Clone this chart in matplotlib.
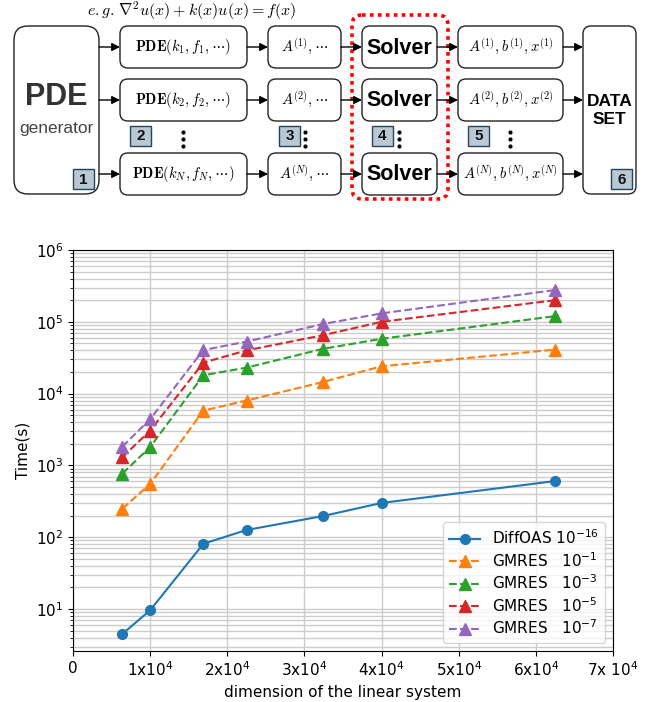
import matplotlib.pyplot as plt
from matplotlib.patches import FancyBboxPatch
import numpy as np

# ---- chart data ----
dims = [6400, 10000, 16900, 22500, 32400, 40000, 62500]
diffoas = [4.5, 9.6, 81, 126, 197, 300, 605]
gmres_1 = [250, 550, 5800, 8000, 14500, 24000, 41000]
gmres_3 = [770, 1800, 18000, 23000, 42000, 58000, 120000]
gmres_5 = [1300, 3050, 27000, 40000, 65000, 100000, 200000]
gmres_7 = [1830, 4400, 40500, 53000, 93000, 131000, 277000]

gmres_series = [gmres_1, gmres_3, gmres_5, gmres_7]
gmres_labels = ['GMRES   $10^{-1}$', 'GMRES   $10^{-3}$',
                'GMRES   $10^{-5}$', 'GMRES   $10^{-7}$']
gmres_colors = ['#ff7f0e', '#2ca02c', '#d62728', '#9467bd']

xtick_vals = [0, 1e4, 2e4, 3e4, 4e4, 5e4, 6e4, 7e4]
xtick_labels = ['0', '1x$10^4$', '2x$10^4$', '3x$10^4$', '4x$10^4$',
                '5x$10^4$', '6x$10^4$', '7x $10^4$']

# ---- figure ----
fig = plt.figure(figsize=(6.45, 7.02), dpi=100)

# overlay axes in pixel units for the pipeline diagram
ad = fig.add_axes([0, 0, 1, 1])
ad.set_xlim(0, 645)
ad.set_ylim(702, 0)
ad.axis('off')

def box(x, y, w, h, r=8, ec='#222222', lw=1.0, ls='-'):
    p = FancyBboxPatch((x, y), w, h, boxstyle=f"round,pad=0,rounding_size={r}",
                       fc='white', ec=ec, lw=lw, ls=ls)
    ad.add_patch(p)

def badge(x, y, s):
    p = FancyBboxPatch((x, y), 21, 20, boxstyle="square,pad=0",
                       fc='#bac8d3', ec='#23445d', lw=1.0)
    ad.add_patch(p)
    ad.text(x + 10.5, y + 10.5, s, ha='center', va='center', fontsize=11,
            fontweight='bold', family='Liberation Sans', color='#111111')

def arrow(x1, x2, y):
    ad.annotate('', xy=(x2, y), xytext=(x1, y),
                arrowprops=dict(arrowstyle='-|>', color='black', lw=1.0,
                                shrinkA=0, shrinkB=0, mutation_scale=12))

def vdots(x):
    ad.plot([x, x, x], [132, 139, 146], 'o', color='black', ms=2.0)

rows = [26, 79, 153]
row_h = 42
subs = ['1', '2', 'N']

plt.rcParams['mathtext.fontset'] = 'cm'

ad.text(192, 11, r'$e.g.\,\nabla^2u(x)+k(x)u(x)=f(x)$', ha='center', va='center',
        fontsize=11.5)

# generator and dataset
box(14, 26, 85, 168, r=14)
ad.text(56, 97, 'PDE', ha='center', va='center', fontsize=22, fontweight='bold',
        family='Liberation Sans', color='#333333')
ad.text(56, 128, 'generator', ha='center', va='center', fontsize=12.5,
        family='Liberation Sans', color='#444444')
box(583, 26, 53, 168, r=8)
ad.text(609.5, 110, 'DATA\nSET', ha='center', va='center', fontsize=12.5,
        fontweight='bold', family='Liberation Sans', linespacing=1.25)

# red dotted solver frame
box(352, 15, 96, 184, r=10, ec='#ff0000', lw=2.6, ls=(0, (1, 1.2)))

for y, s in zip(rows, subs):
    yc = y + row_h / 2
    box(120, y, 127, row_h)
    ad.text(183.5, yc, r'$\mathbf{PDE}(k_{%s},f_{%s},\cdots)$' % (s, s),
            ha='center', va='center', fontsize=10.5)
    box(268, y, 73, row_h)
    ad.text(304.5, yc, r'$A^{(%s)},\cdots$' % s, ha='center', va='center',
            fontsize=10.5)
    box(362, y, 75, row_h)
    ad.text(399.5, yc + 1, 'Solver', ha='center', va='center', fontsize=15.5,
            fontweight='bold', family='Liberation Sans')
    box(458, y, 105, row_h)
    ad.text(510.5, yc, r'$A^{(%s)},b^{(%s)},x^{(%s)}$' % (s, s, s),
            ha='center', va='center', fontsize=10.5)
    arrow(99, 120, yc)
    arrow(247, 268, yc)
    arrow(341, 362, yc)
    arrow(437, 458, yc)
    arrow(563, 583, yc)

badge(73, 169, '1')
badge(130, 126, '2')
badge(279, 126, '3')
badge(372, 126, '4')
badge(468, 126, '5')
badge(611, 169, '6')
for x in [183, 305, 399, 510]:
    vdots(x)

plt.rcParams['mathtext.fontset'] = 'dejavusans'

# ---- timing chart ----
ax = fig.add_axes([73 / 645, 1 - 651 / 702, 540 / 645, 401 / 702])
ax.plot(dims, diffoas, '-o', color='#1f77b4', ms=7, lw=1.5,
        label='DiffOAS $10^{-16}$')
for vals, lab, col in zip(gmres_series, gmres_labels, gmres_colors):
    ax.plot(dims, vals, '--^', color=col, ms=8, lw=1.5, label=lab)

ax.set_yscale('log')
ax.set_ylim(2.6, 1e6)
ax.set_xlim(0, 7e4)
ax.set_xticks(xtick_vals)
ax.set_xticklabels(xtick_labels)
ax.tick_params(axis='both', which='major', labelsize=11)
ax.grid(True, which='major', color='#cccccc', lw=1.0)
ax.grid(True, which='minor', axis='y', color='#cccccc', lw=1.0)
ax.set_xlabel('dimension of the linear system', fontsize=11)
ax.set_ylabel('Time(s)', fontsize=11)
ax.legend(loc='lower right', fontsize=11, labelspacing=0.25)

fig.savefig('out.png', dpi=100)
